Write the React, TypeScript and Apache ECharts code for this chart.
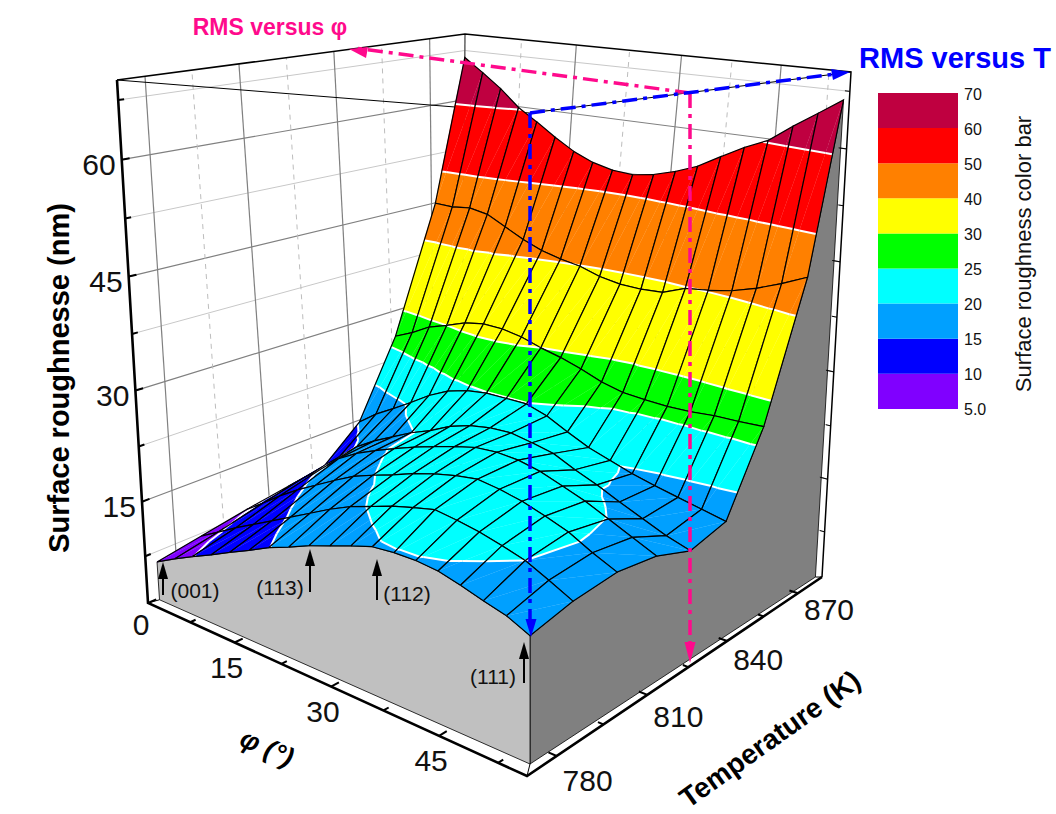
import React, { useEffect, useRef } from "react";
import * as echarts from "echarts";

// ---------- data ----------
const temperatures = [772, 786, 801, 815, 827.5, 841, 855, 870, 880];
const phiStep = 54.7 / 18;
const phiValues = Array.from({ length: 19 }, (_, i) => i * phiStep);
const rms772 = [7.2, 8.6, 9.9, 11.1, 12.4, 13.6, 14.9, 15.9, 17.0, 17.9, 18.8, 19.6, 19.8, 19.8, 19.5, 18.8, 18.0, 17.3, 16.1];
const rms786 = [8.1, 9.6, 11.1, 12.5, 13.9, 15.3, 16.7, 18.1, 19.3, 20.2, 21.1, 21.8, 22.4, 22.0, 21.5, 20.8, 20.0, 18.7, 17.3];
const rms801 = [9.1, 10.9, 12.8, 14.5, 16.0, 17.5, 18.9, 19.9, 20.8, 21.8, 22.6, 23.2, 23.6, 23.2, 22.6, 21.7, 20.7, 19.2, 17.9];
const rms815 = [9.9, 12.1, 14.2, 16.5, 18.1, 19.3, 20.4, 21.4, 22.3, 23.1, 23.8, 24.0, 23.8, 23.2, 22.2, 21.2, 19.9, 18.6, 17.3];
const rms827 = [10.6, 13.0, 15.3, 17.0, 18.4, 19.8, 20.9, 22.3, 23.2, 23.7, 23.8, 23.3, 22.7, 21.4, 20.3, 19.0, 17.8, 16.6, 15.7];
const rms841 = [15.2, 17.2, 18.8, 20.5, 22.3, 23.7, 24.5, 24.9, 24.9, 24.9, 24.0, 22.6, 21.3, 20.4, 19.5, 18.8, 18.2, 17.6, 17.0];
const rms855 = [26.4, 27.6, 29.1, 30.0, 31.0, 31.5, 31.4, 30.9, 30.0, 29.3, 28.4, 27.3, 26.6, 26.4, 26.3, 26.4, 26.7, 26.8, 27.0];
const rms870 = [45.3, 45.2, 45.5, 45.0, 43.6, 42.2, 41.1, 40.4, 39.9, 39.0, 38.5, 38.4, 38.6, 39.8, 40.2, 40.8, 41.8, 43.1, 44.6];
const rms880 = [66.9, 64.9, 62.8, 60.3, 58.5, 56.6, 54.9, 53.7, 53.0, 52.8, 53.3, 54.2, 55.4, 57.2, 58.9, 60.3, 62.6, 64.7, 66.8];
const rmsRows = [rms772, rms786, rms801, rms815, rms827, rms841, rms855, rms870, rms880];

const bandEdges = [5, 10, 15, 20, 25, 30, 40, 50, 60, 70];
const bandColors = ["#8000FF", "#0000FF", "#00A0FF", "#00FFFF", "#00FF00", "#FFFF00", "#FF8000", "#FF0000", "#BF0040"];
const barLabels = ["5.0", "10", "15", "20", "25", "30", "40", "50", "60", "70"];
const zTicks = [7.5, 15, 22.5, 30, 37.5, 45, 52.5, 60, 67.5];
const zLabels = [15, 30, 45, 60];
const phiTicks = [0, 7.5, 15, 22.5, 30, 37.5, 45, 52.5];
const phiLabels = [0, 15, 30, 45];
const tTicks = [780, 795, 810, 825, 840, 855, 870];
const tLabels = [780, 810, 840, 870];

// ---------- projection ----------
const F = "'Liberation Sans', Arial, sans-serif";
const zMin = 1, zMax = 70, zBase = 2, persp = 1.06;
type P = [number, number];
function quad(p: P[]) {
  const [p0, p1, p2, p3] = p;
  const dx1 = p1[0] - p2[0], dx2 = p3[0] - p2[0], sx = p0[0] - p1[0] + p2[0] - p3[0];
  const dy1 = p1[1] - p2[1], dy2 = p3[1] - p2[1], sy = p0[1] - p1[1] + p2[1] - p3[1];
  const den = dx1 * dy2 - dx2 * dy1;
  const g = (sx * dy2 - dx2 * sy) / den, h = (dx1 * sy - sx * dy1) / den;
  const a = p1[0] - p0[0] + g * p1[0], b = p3[0] - p0[0] + h * p3[0], c = p0[0];
  const d = p1[1] - p0[1] + g * p1[1], e = p3[1] - p0[1] + h * p3[1], f = p0[1];
  return (u: number, v: number): P => {
    const w = g * u + h * v + 1;
    return [(a * u + b * v + c) / w, (d * u + e * v + f) / w];
  };
}
const tz = (z: number) => { const w = (z - zMin) / (zMax - zMin); return w / (w + persp * (1 - w)); };
const cl = (x: number) => Math.max(0, Math.min(1, x));
function warp(u: number, v: number) {
  const k = 1 + 0.07 * cl(v / 0.25) + 0.13 * cl((v - 0.6) / 0.3);
  return u / (u + k * (1 - u));
}
function box(fl: P[], tp: P[], phi1: number, t0: number, t1: number, warped: boolean) {
  const a = quad(fl), b = quad(tp);
  return (phi: number, T: number, z: number): P => {
    const v = (T - t0) / (t1 - t0);
    const u = warped ? warp(phi / phi1, v) : phi / phi1;
    const p = a(u, v), q = b(u, v), t = tz(z);
    return [p[0] + (q[0] - p[0]) * t, p[1] + (q[1] - p[1]) * t];
  };
}
const phiEnd = phiValues[18];
const tA = temperatures[0], tB = temperatures[8];
const dFl: P[] = [[160, 607], [530, 773], [815, 584], [461, 467]], dTp: P[] = [[125, 78], [530, 116], [845, 75], [465, 37]];
const dataP = box(dFl, dTp, phiEnd, tA, tB, true);
const frPhi = 56, frT0 = 771, frT1 = 881;
const frameP = box([[148, 603], [527, 776], [822, 577], [461, 465]], [[117, 80], [530, 113], [851, 72], [465, 34]], frPhi, frT0, frT1, false);

// ---------- band clipping ----------
type V = { p: number; t: number; z: number };
const lerpV = (a: V, b: V, k: number): V => ({ p: a.p + (b.p - a.p) * k, t: a.t + (b.t - a.t) * k, z: a.z + (b.z - a.z) * k });
function clip(poly: V[], lvl: number, keepAbove: boolean) {
  const out: V[] = [];
  for (let i = 0; i < poly.length; i++) {
    const a = poly[i], b = poly[(i + 1) % poly.length];
    const ia = keepAbove ? a.z >= lvl : a.z <= lvl, ib = keepAbove ? b.z >= lvl : b.z <= lvl;
    if (ia) out.push(a);
    if (ia !== ib) out.push(lerpV(a, b, (lvl - a.z) / (b.z - a.z)));
  }
  return out;
}
function contourSeg(tri: V[], lvl: number) {
  const pts: V[] = [];
  for (let i = 0; i < 3; i++) {
    const a = tri[i], b = tri[(i + 1) % 3];
    if ((a.z < lvl) !== (b.z < lvl)) pts.push(lerpV(a, b, (lvl - a.z) / (b.z - a.z)));
  }
  return pts.length === 2 ? pts : null;
}

const cells: number[][] = [];
for (let j = 7; j >= 0; j--) for (let i = 0; i < 18; i++) cells.push([i, j]);

export default function App() {
  const ref = useRef<HTMLDivElement>(null);
  useEffect(() => {
    document.body.style.margin = "0";
    const chart = echarts.init(ref.current!, null, { renderer: "svg" });
    const line = (api: any, pts: P[], stroke: string, lw: number, dash?: number[]) => ({
      type: "polyline", silent: true,
      shape: { points: pts.map((q) => api.coord(q)) },
      style: { stroke, lineWidth: lw, fill: "none", lineDash: dash },
    });
    const poly = (api: any, pts: P[], fill: string, stroke?: string, lw?: number) => ({
      type: "polygon", silent: true,
      shape: { points: pts.map((q) => api.coord(q)) },
      style: { fill, stroke: stroke || "none", lineWidth: lw || 0 },
    });
    const text = (api: any, q: P, t: string, size: number, o: any = {}) => {
      const c = api.coord(q);
      return {
        type: "text", silent: true, x: c[0], y: c[1], rotation: o.rotation || 0,
        style: { text: t, fontFamily: o.family || F, fontSize: size, fontWeight: o.weight || "normal", fontStyle: o.style || "normal",
          fill: o.fill || "#111", align: o.align || "center", verticalAlign: "middle" },
      };
    };
    const toward = (a: P, b: P, len: number): P => {
      const dx = b[0] - a[0], dy = b[1] - a[1], d = Math.hypot(dx, dy);
      return [a[0] + dx / d * len, a[1] + dy / d * len];
    };

    const renderWalls = (_: any, api: any) => {
      const ch: any[] = [];
      zTicks.forEach((z) => {
        const maj = zLabels.includes(z);
        ch.push(line(api, [frameP(0, frT0, z), frameP(0, frT1, z), frameP(frPhi, frT1, z)], maj ? "#808080" : "#C8C8C8", maj ? 1.2 : 1));
      });
      tTicks.forEach((T) => {
        const maj = tLabels.includes(T);
        ch.push(line(api, [frameP(0, T, zMin), frameP(0, T, zMax)], maj ? "#808080" : "#BDBDBD", maj ? 1.2 : 1, maj ? undefined : [5, 5]));
      });
      phiTicks.forEach((p) => {
        if (p === 0) return;
        const maj = phiLabels.includes(p);
        ch.push(line(api, [frameP(p, frT1, zMin), frameP(p, frT1, zMax)], maj ? "#808080" : "#BDBDBD", maj ? 1.2 : 1, maj ? undefined : [5, 5]));
      });
      ch.push(line(api, [frameP(0, frT1, zMin), frameP(0, frT1, zMax)], "#606060", 1.5));
      ch.push(line(api, [frameP(0, frT0, zMax), frameP(frPhi, frT0, zMax), frameP(frPhi, frT1, zMax)], "#000", 1));
      ch.push(line(api, [frameP(0, frT0, zMax), frameP(0, frT1, zMax), frameP(frPhi, frT1, zMax), frameP(frPhi, frT1, zMin)], "#000", 1.5));
      return { type: "group", children: ch };
    };

    const renderBlock = (_: any, api: any) => {
      const front: P[] = rmsRows[0].map((z, i) => dataP(phiValues[i], tA, z));
      const right: P[] = rmsRows.map((row, j) => dataP(phiEnd, temperatures[j], row[18]));
      return {
        type: "group",
        children: [
          poly(api, [...right, dataP(phiEnd, tB, zBase), dataP(phiEnd, tA, zBase)], "#808080", "#000", 0.8),
          poly(api, [...front, dataP(phiEnd, tA, zBase), dataP(0, tA, zBase)], "#C0C0C0", "#000", 0.8),
        ],
      };
    };

    const renderCell = (params: any, api: any) => {
      const i = api.value(0), j = api.value(1);
      const v = (a: number, b: number): V => ({ p: phiValues[a], t: temperatures[b], z: rmsRows[b][a] });
      const q = [v(i, j), v(i + 1, j), v(i + 1, j + 1), v(i, j + 1)];
      const tris = [[q[0], q[1], q[2]], [q[0], q[2], q[3]]];
      const ch: any[] = [];
      const pr = (o: V) => dataP(o.p, o.t, o.z);
      tris.forEach((tri) => {
        bandColors.forEach((col, b) => {
          let pl = clip(tri, bandEdges[b], true);
          if (pl.length) pl = clip(pl, bandEdges[b + 1], false);
          if (pl.length >= 3) ch.push(poly(api, pl.map(pr), col, col, 0.25));
        });
      });
      tris.forEach((tri) => {
        bandEdges.forEach((lvl) => {
          const s = contourSeg(tri, lvl);
          if (s) ch.push(line(api, s.map(pr), "#FFFFFF", 2));
        });
      });
      ch.push(line(api, [...q, q[0]].map(pr), "#000", 1.2));
      return { type: "group", children: ch };
    };

    const renderAxes = (_: any, api: any) => {
      const ch: any[] = [];
      ch.push(line(api, [frameP(0, frT0, zMax), frameP(0, frT0, zMin), frameP(frPhi, frT0, zMin), frameP(frPhi, frT1, zMin)], "#000", 2.6));
      ch.push(line(api, [frameP(0, frT0, zMin), dataP(0, tA, zBase)], "#000", 1));
      ch.push(line(api, [frameP(frPhi, frT0, zMin), dataP(phiEnd, tA, zBase)], "#000", 1));
      ch.push(line(api, [frameP(frPhi, frT1, zMin), dataP(phiEnd, tB, zBase)], "#000", 1));
      zTicks.forEach((z) => {
        const a = frameP(0, frT0, z), maj = zLabels.includes(z);
        ch.push(line(api, [a, toward(a, frameP(0, frT1, z), maj ? 8 : 6)], "#000", 2));
        const r = frameP(frPhi, frT1, z);
        ch.push(line(api, [r, toward(r, frameP(0, frT1, z), maj ? 8 : 5)], "#000", 1));
        if (maj) ch.push(text(api, [a[0] - 6, a[1] + 5], String(z), 30, { align: "right" }));
      });
      phiTicks.forEach((p) => {
        const a = frameP(p, frT0, zMin), maj = phiLabels.includes(p);
        ch.push(line(api, [a, toward(a, frameP(p, frT1, zMin), maj ? 9 : 6)], "#000", 2));
        if (maj) ch.push(text(api, [a[0] - (p === 0 ? 7 : 8), a[1] + (p === 0 ? 21 : 25)], String(p), 30));
      });
      tTicks.forEach((T) => {
        const a = frameP(frPhi, T, zMin), maj = tLabels.includes(T);
        ch.push(line(api, [a, toward(a, frameP(0, T, zMin), maj ? 9 : 6)], "#000", 2));
        if (maj) ch.push(text(api, [a[0] + 31, a[1] + 25 - (T - 780) * 0.1], String(T), 30));
      });
      return { type: "group", children: ch };
    };

    const renderBar = (_: any, api: any) => {
      const ch: any[] = [];
      const x0 = 878, x1 = 958, y0 = 93, h = 35.1;
      const n = bandColors.length;
      bandColors.forEach((col, b) => {
        const yTop = y0 + (n - 1 - b) * h;
        ch.push(poly(api, [[x0, yTop], [x1, yTop], [x1, yTop + h], [x0, yTop + h]], col));
      });
      barLabels.forEach((t, b) => ch.push(text(api, [964, y0 + (n - b) * h + 1], t, 16, { align: "left" })));
      ch.push(text(api, [1023, 254], "Surface roughness color bar", 22, { rotation: Math.PI / 2 }));
      return { type: "group", children: ch };
    };

    const renderAnno = (_: any, api: any) => {
      const ch: any[] = [];
      const arrow = (x: number, tip: number, tail: number) => {
        ch.push(line(api, [[x, tail], [x, tip + 10]], "#000", 2));
        ch.push(poly(api, [[x, tip], [x - 5, tip + 17], [x + 5, tip + 17]], "#000"));
      };
      arrow(163, 562, 595); arrow(310, 549, 592); arrow(377, 559, 600); arrow(524, 642, 683);
      ch.push(text(api, [195, 590], "(001)", 21));
      ch.push(text(api, [280, 587], "(113)", 21));
      ch.push(text(api, [407, 593], "(112)", 21));
      ch.push(text(api, [493, 676], "(111)", 21));
      const blue = "#0000FF", pink = "#FF0A8C", dash = [15, 6, 4, 6];
      ch.push(line(api, [[690, 93], [355, 48]], pink, 3.5, dash));
      ch.push(line(api, [[690, 93], [690, 650]], pink, 3.5, dash));
      ch.push(line(api, [[530, 113], [835, 74]], blue, 3.5, dash));
      ch.push(line(api, [[530, 113], [530, 625]], blue, 3.5, dash));
      ch.push(poly(api, [[531, 637], [525.5, 619], [536.5, 619]], blue));
      ch.push(poly(api, [[850, 72], [831, 69], [833, 80]], blue));
      ch.push(poly(api, [[690, 663], [684.5, 642], [695.5, 642]], pink));
      ch.push(poly(api, [[349, 49], [368, 47], [366, 58]], pink));
      ch.push(text(api, [270, 27], "RMS versus φ", 23, { fill: pink, weight: "bold" }));
      ch.push(text(api, [955, 58], "RMS versus T", 29, { fill: blue, weight: "bold" }));
      ch.push(text(api, [59, 378], "Surface roughnesse (nm)", 29, { weight: "bold", rotation: Math.PI / 2, fill: "#000" }));
      ch.push(text(api, [267, 748], "φ (°)", 27, { weight: "bold", style: "italic", rotation: -0.42, fill: "#000" }));
      ch.push(text(api, [770, 739], "Temperature (K)", 28, { weight: "bold", rotation: 0.62, fill: "#000" }));
      return { type: "group", children: ch };
    };

    const custom = (name: string, z: number, data: any[], fn: any) => ({
      type: "custom", name, z, data, renderItem: fn, clip: false, silent: true, coordinateSystem: "cartesian2d", encode: { x: 0, y: 1 },
    });

    chart.setOption({
      animation: false,
      grid: { left: 0, top: 0, width: 1056, height: 814 },
      xAxis: { type: "value", min: 0, max: 1056, show: false },
      yAxis: { type: "value", min: 0, max: 814, inverse: true, show: false },
      tooltip: { show: false },
      series: [
        custom("walls", 1, [[0, 0]], renderWalls),
        custom("block", 2, [[0, 0]], renderBlock),
        custom("surface", 3, cells, renderCell),
        custom("axes", 4, [[0, 0]], renderAxes),
        custom("bar", 5, [[0, 0]], renderBar),
        custom("notes", 6, [[0, 0]], renderAnno),
      ],
    });
    return () => chart.dispose();
  }, []);
  return <div ref={ref} style={{ width: 1056, height: 814 }} />;
}
